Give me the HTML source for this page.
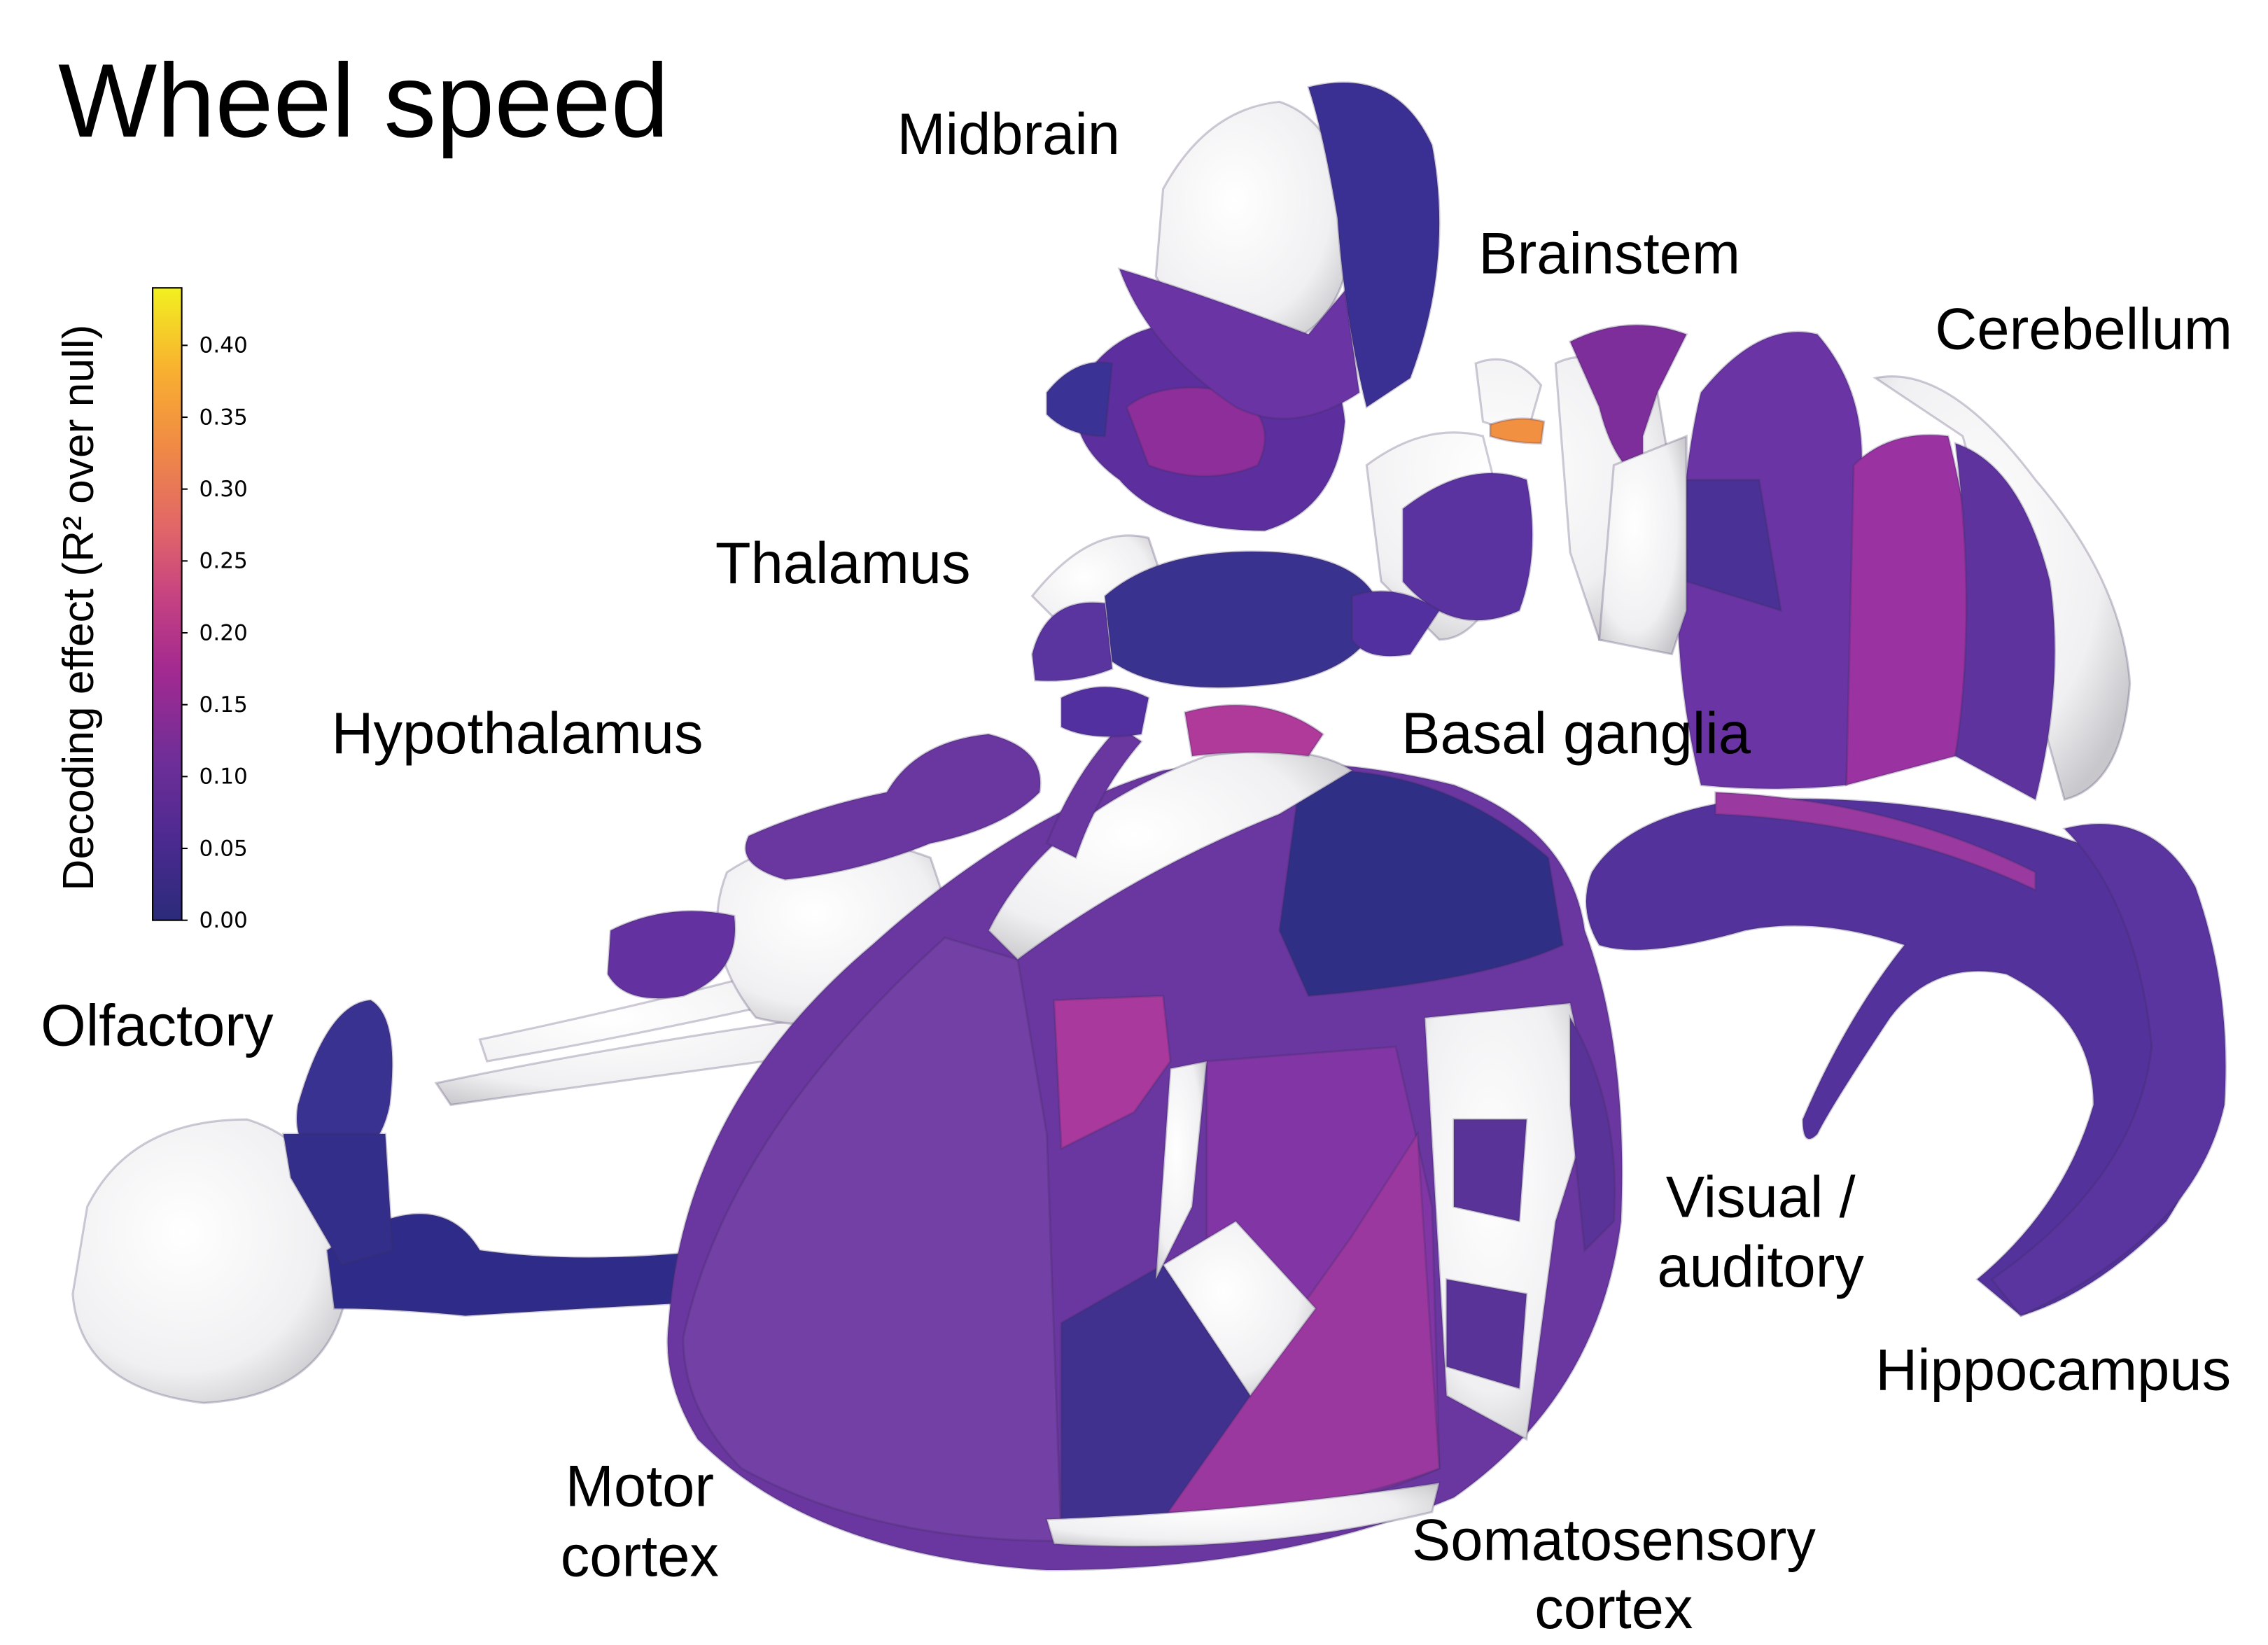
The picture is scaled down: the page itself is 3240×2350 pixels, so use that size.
<!DOCTYPE html>
<html><head><meta charset="utf-8">
<style>
html,body{margin:0;padding:0;background:#fff;}
svg{display:block;}
text{font-family:"Liberation Sans",sans-serif;fill:#000;}
</style></head>
<body>
<svg id="fig" width="3240" height="2350" viewBox="0 0 1560 1131.5" preserveAspectRatio="none" xmlns="http://www.w3.org/2000/svg">
<defs>
<linearGradient id="cb" x1="0" y1="1" x2="0" y2="0">
<stop offset="0" stop-color="#2b2b7a"/>
<stop offset="0.12" stop-color="#4a2a8f"/>
<stop offset="0.25" stop-color="#6e2e98"/>
<stop offset="0.4" stop-color="#a42a90"/>
<stop offset="0.52" stop-color="#c84580"/>
<stop offset="0.62" stop-color="#e06668"/>
<stop offset="0.75" stop-color="#f08a45"/>
<stop offset="0.87" stop-color="#f8b030"/>
<stop offset="1" stop-color="#f2f020"/>
</linearGradient>
<radialGradient id="wh" cx="0.4" cy="0.4" r="0.7"><stop offset="0" stop-color="#ffffff"/><stop offset="0.7" stop-color="#f0f0f2"/><stop offset="1" stop-color="#c8c8cc"/></radialGradient>
</defs>

<text x="40" y="94" font-size="72">Wheel speed</text>

<g id="brain" stroke="#3a2a5a" stroke-opacity="0.25" stroke-width="1.5">
<path d="M300,745 Q420,720 560,700 L600,720 Q450,740 310,760 Z M330,715 Q450,690 560,660 L580,680 Q450,710 335,730Z" fill="url(#wh)"/>
<path d="M500,600 Q560,560 640,590 L660,650 Q600,720 520,700 Q480,650 500,600Z" fill="url(#wh)"/>
<path d="M60,830 Q90,770 170,770 Q235,790 240,880 Q230,960 140,965 Q55,955 50,890 Z" fill="url(#wh)"/>
<path d="M225,860 Q300,810 330,860 Q400,870 490,860 L495,895 Q400,900 320,905 Q270,900 230,900 Z" fill="#2e2c88"/>
<path d="M205,760 Q225,690 255,688 Q275,700 268,760 Q260,800 225,800 Q200,790 205,760Z" fill="#3a3290"/>
<path d="M195,780 L265,780 L270,860 L235,870 L200,810Z" fill="#332e8a"/>
<path d="M460,910 Q470,760 600,650 Q700,560 800,530 Q900,515 1000,540 Q1080,570 1090,640 Q1120,720 1115,840 Q1100,960 1000,1030 Q880,1080 720,1080 Q560,1070 480,990 Q455,950 460,910Z" fill="#6a36a0"/>
<path d="M470,920 Q500,780 650,645 L700,660 L720,780 L730,1060 Q600,1060 510,1010 Q470,970 470,920Z" fill="#7340a5"/>
<path d="M895,530 Q990,525 1065,590 L1075,650 Q1020,675 900,685 L880,640 Z" fill="#2f2f86"/>
<path d="M725,688 L800,685 L805,730 L780,765 L730,790 Z" fill="#a9399c"/>
<path d="M830,730 L960,720 L985,830 L990,1010 Q900,1050 790,1040 L860,960 L830,850 Z" fill="#8236a6"/>
<path d="M930,850 L975,780 L990,1010 Q900,1045 795,1040 Z" fill="#9a389f"/>
<path d="M730,910 L800,870 L860,960 L800,1045 L730,1050 Z" fill="#40318f"/>
<path d="M800,870 L850,840 L905,900 L860,960 Z" fill="url(#wh)"/>
<path d="M805,735 L830,730 L820,830 L795,880 Z" fill="url(#wh)"/>
<path d="M980,700 L1080,690 L1095,760 L1070,840 L1050,990 L995,960 Z" fill="url(#wh)"/>
<path d="M1080,700 Q1115,760 1110,840 L1090,860 L1080,760 Z M995,880 L1050,890 L1045,955 L995,940Z M1000,770 L1050,770 L1045,840 L1000,830Z" fill="#5a3399"/>
<path d="M720,1045 Q860,1040 990,1020 L985,1040 Q860,1070 725,1062Z" fill="url(#wh)"/>
<path d="M680,640 Q720,560 830,520 Q900,510 930,530 L880,560 Q780,600 700,660Z" fill="url(#wh)"/>
<path d="M815,490 Q870,475 910,505 L900,520 Q860,515 820,520Z" fill="#b03a9a"/>
<path d="M515,575 Q560,555 610,545 Q630,510 680,505 Q720,515 715,545 Q690,570 640,580 Q590,600 540,605 Q505,595 515,575Z" fill="#6a36a0"/>
<path d="M420,640 Q460,620 505,630 Q510,670 470,685 Q430,692 418,670Z" fill="#6432a0"/>
<path d="M720,580 Q740,530 770,500 L785,510 Q755,545 740,590Z" fill="#6a36a0"/>
<path d="M710,410 Q750,360 790,370 L800,400 L740,440 Z" fill="url(#wh)"/>
<path d="M760,410 Q800,375 880,380 Q940,385 950,420 Q940,460 880,470 Q800,480 765,455 Z" fill="#3a328f"/>
<path d="M710,450 Q720,410 760,415 L765,460 Q740,470 712,468Z" fill="#5a35a0"/>
<path d="M730,480 Q760,465 790,480 L785,505 Q750,510 730,500Z" fill="#5330a0"/>
<path d="M740,270 Q770,210 850,225 Q920,230 925,290 Q920,350 870,365 Q800,365 770,330 Q735,305 740,270Z" fill="#5d2f9e"/>
<path d="M775,280 Q800,260 850,270 Q880,290 865,320 Q830,335 790,320 Z" fill="#8e2e9a"/>
<path d="M720,270 Q740,245 765,250 L760,300 Q735,300 720,285Z" fill="#3b3295"/>
<path d="M800,130 Q830,75 880,70 Q925,85 930,160 Q925,230 870,240 Q820,235 795,190 Z" fill="url(#wh)"/>
<path d="M900,60 Q960,45 985,100 Q1000,180 970,260 L940,280 Q925,220 920,150 Q910,90 900,60Z" fill="#3a2f92"/>
<path d="M770,185 Q820,200 900,230 L925,200 L935,270 Q890,300 850,280 Q790,240 770,185Z" fill="#6a34a5"/>
<path d="M940,320 Q980,290 1020,300 L1040,380 Q1020,440 990,440 L950,400Z M1015,250 Q1040,240 1060,265 L1050,300 L1020,290Z M1070,250 Q1100,235 1140,270 L1160,390 Q1140,440 1100,440 L1080,380 Z" fill="url(#wh)"/>
<path d="M965,350 Q1010,315 1050,330 Q1060,380 1045,420 Q1000,440 965,400Z" fill="#5a33a0"/>
<path d="M1080,235 Q1120,215 1160,230 L1140,270 L1130,300 L1130,330 Q1110,320 1100,280Z" fill="#7e2e9a"/>
<path d="M1025,292 Q1045,285 1062,290 L1060,305 Q1040,305 1025,300Z" fill="#f09040"/>
<path d="M930,410 Q960,400 990,420 L970,450 Q940,455 930,440Z" fill="#5330a0"/>
<path d="M1290,260 Q1340,250 1400,330 Q1460,400 1465,470 Q1460,540 1420,550 L1350,300 Z" fill="url(#wh)"/>
<path d="M1170,270 Q1210,220 1250,230 Q1285,270 1280,330 L1270,540 Q1220,545 1170,540 Q1150,460 1155,380 Q1160,310 1170,270Z" fill="#6a34a5"/>
<path d="M1160,330 L1210,330 L1225,420 L1160,400Z" fill="#4a3195"/>
<path d="M1275,320 Q1300,295 1340,300 Q1360,380 1360,450 L1345,520 L1270,540 Z" fill="#9a32a2"/>
<path d="M1345,305 Q1390,320 1410,400 Q1420,470 1400,550 L1345,520 Q1360,420 1345,305Z" fill="#5e339e"/>
<path d="M1110,320 L1160,300 L1160,420 L1150,450 L1100,440Z" fill="url(#wh)"/>
<path d="M1095,600 Q1120,560 1200,550 Q1330,545 1430,580 Q1500,620 1520,700 Q1530,780 1490,840 Q1440,890 1390,905 L1360,880 Q1420,830 1440,760 Q1440,700 1380,670 Q1330,660 1300,700 Q1260,760 1250,780 Q1240,790 1240,770 Q1270,700 1310,650 Q1250,630 1200,640 Q1130,660 1100,650 Q1085,625 1095,600Z" fill="#53329c"/>
<path d="M1420,570 Q1480,555 1510,610 Q1535,680 1530,760 Q1510,850 1390,905 L1370,880 Q1470,810 1480,720 Q1470,620 1420,570Z" fill="#5a35a0"/>
<path d="M1180,545 Q1300,550 1400,600 L1400,612 Q1300,565 1180,560Z" fill="#9a3aa0"/>
</g>

<g font-size="40">
<text x="617" y="106">Midbrain</text>
<text x="1017" y="188">Brainstem</text>
<text x="1331" y="240">Cerebellum</text>
<text x="492" y="401">Thalamus</text>
<text x="228" y="518">Hypothalamus</text>
<text x="964" y="518">Basal ganglia</text>
<text x="28" y="719">Olfactory</text>
<text x="1211" y="837" text-anchor="middle">Visual /</text>
<text x="1211" y="885" text-anchor="middle">auditory</text>
<text x="1290" y="956">Hippocampus</text>
<text x="440" y="1036" text-anchor="middle">Motor</text>
<text x="440" y="1084" text-anchor="middle">cortex</text>
<text x="1110" y="1073" text-anchor="middle">Somatosensory</text>
<text x="1110" y="1120" text-anchor="middle">cortex</text>
</g>

<g id="colorbar"></g>
</svg>
<script>
const cbTicks = [0.00, 0.05, 0.10, 0.15, 0.20, 0.25, 0.30, 0.35, 0.40];
const cbTickLabels = ["0.00","0.05","0.10","0.15","0.20","0.25","0.30","0.35","0.40"];
const cbDomain = [0, 0.44];
(function(){
  const NS = "http://www.w3.org/2000/svg";
  const g = document.getElementById('colorbar');
  const x0 = 105, w = 20, yBot = 633, yTop = 198;
  const y = v => yBot - (v - cbDomain[0]) / (cbDomain[1] - cbDomain[0]) * (yBot - yTop);
  const r = document.createElementNS(NS, 'rect');
  
  
  r.setAttribute('x', x0); r.setAttribute('y', y(cbDomain[1]));
  r.setAttribute('width', w); r.setAttribute('height', y(cbDomain[0]) - y(cbDomain[1]));
  r.setAttribute('fill', 'url(#cb)'); r.setAttribute('stroke', '#000'); r.setAttribute('stroke-width', '1');
  g.appendChild(r);
  cbTicks.forEach((v, i) => {
    const yy = y(v);
    const t = document.createElementNS(NS, 'line');
    
    
    t.setAttribute('x1', x0 + w); t.setAttribute('x2', x0 + w + 4);
    t.setAttribute('y1', yy); t.setAttribute('y2', yy);
    t.setAttribute('stroke', '#000'); t.setAttribute('stroke-width', '1');
    g.appendChild(t);
    const l = document.createElementNS(NS, 'text');
    
    
    l.setAttribute('x', x0 + w + 12); l.setAttribute('y', yy + 5);
    l.setAttribute('font-size', '15');
    l.setAttribute('style', 'font-family:"DejaVu Sans",sans-serif');
    l.textContent = cbTickLabels[i];
    g.appendChild(l);
  });
  const ttl = document.createElementNS(NS, 'text');
  
  
  ttl.setAttribute('x', 0); ttl.setAttribute('y', 0);
  ttl.setAttribute('font-size', '30');
  ttl.setAttribute('text-anchor', 'middle');
  ttl.setAttribute('transform', 'translate(64,418) rotate(-90)');
  ttl.textContent = 'Decoding effect (R² over null)';
  g.appendChild(ttl);
})();
</script>
</body></html>
